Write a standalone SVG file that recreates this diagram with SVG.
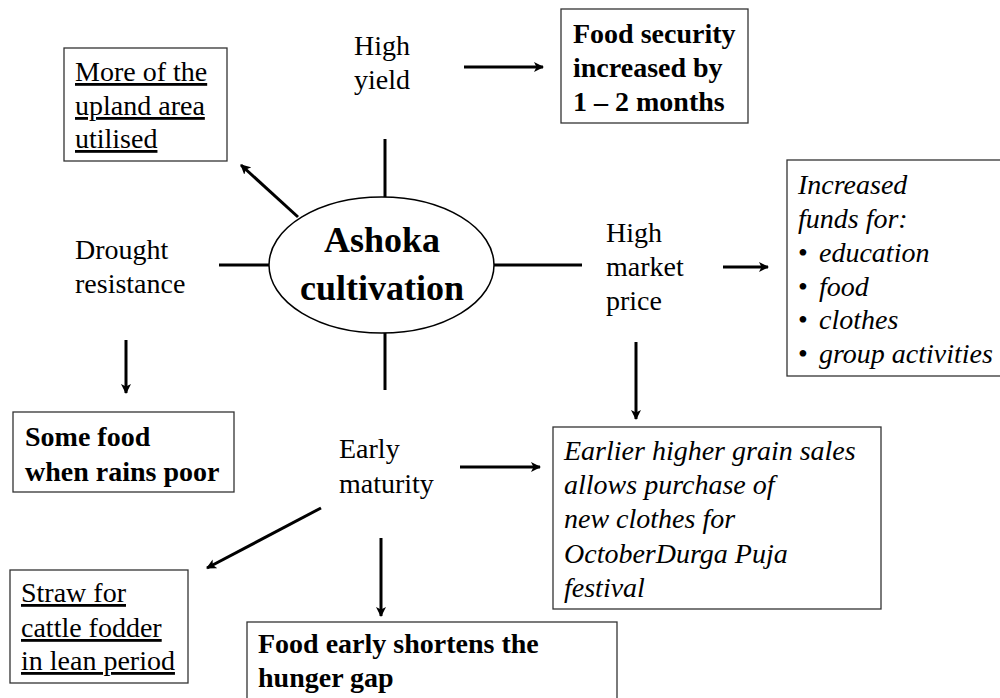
<svg xmlns="http://www.w3.org/2000/svg" width="1000" height="698" viewBox="0 0 1000 698" font-family="Liberation Serif, Times New Roman, serif" font-size="28">
<defs>
<marker id="ah" viewBox="0 0 10 10" refX="9" refY="5" markerWidth="10" markerHeight="10" markerUnits="userSpaceOnUse" orient="auto">
<path d="M0,0 L10,5 L0,10 L2.5,5 z" fill="#000"/>
</marker>
</defs>
<style>
.box{fill:#fff;stroke:#333;stroke-width:1.3}
.b{font-weight:bold}
.i{font-style:italic}
.u{text-decoration:underline}
.big{font-size:36px}
.ln{stroke:#000;stroke-width:3;fill:none}
.ar{stroke:#000;stroke-width:3;fill:none;marker-end:url(#ah)}
</style>
<rect width="1000" height="698" fill="#fff"/>
<g id="connectors">
<line class="ln" x1="385" y1="139" x2="385" y2="197"/>
<line class="ln" x1="219" y1="265" x2="269" y2="265"/>
<line class="ln" x1="494" y1="265" x2="582" y2="265"/>
<line class="ln" x1="385" y1="333" x2="385" y2="390"/>
<line class="ar" x1="298" y1="217" x2="241" y2="165"/>
<line class="ar" x1="464" y1="67" x2="543" y2="67"/>
<line class="ar" x1="723" y1="267" x2="768" y2="267"/>
<line class="ar" x1="636" y1="342" x2="636" y2="419"/>
<line class="ar" x1="126" y1="340" x2="126" y2="393"/>
<line class="ar" x1="460" y1="467" x2="540" y2="467"/>
<line class="ar" x1="321" y1="508" x2="207" y2="568"/>
<line class="ar" x1="381" y1="538" x2="381" y2="616"/>
</g>
<g id="center">
<ellipse cx="381.5" cy="265" rx="112.5" ry="68" fill="#fff" stroke="#000" stroke-width="1.5"/>
<text class="b big" x="382" y="252" text-anchor="middle">Ashoka</text>
<text class="b big" x="382" y="300" text-anchor="middle">cultivation</text>
</g>
<g id="high-yield">
<text x="354" y="55">High</text>
<text x="354" y="89">yield</text>
</g>
<g id="food-security">
<rect class="box" x="561" y="9" width="187" height="114"/>
<text class="b" x="573" y="43">Food security</text>
<text class="b" x="573" y="77">increased by</text>
<text class="b" x="573" y="111">1 – 2 months</text>
</g>
<g id="upland">
<rect class="box" x="64" y="48" width="163" height="113"/>
<text class="u" x="75" y="81">More of the</text>
<text class="u" x="75" y="115">upland area</text>
<text class="u" x="75" y="148">utilised</text>
</g>
<g id="drought">
<text x="75" y="259">Drought</text>
<text x="75" y="293">resistance</text>
</g>
<g id="market-price">
<text x="606" y="242">High</text>
<text x="606" y="276">market</text>
<text x="606" y="310">price</text>
</g>
<g id="funds">
<rect class="box" x="787" y="160" width="220" height="216"/>
<text class="i" x="798" y="194">Increased</text>
<text class="i" x="798" y="228">funds for:</text>
<text x="798" y="262">•</text>
<text class="i" x="819" y="262">education</text>
<text x="798" y="296">•</text>
<text class="i" x="819" y="296">food</text>
<text x="798" y="329">•</text>
<text class="i" x="819" y="329">clothes</text>
<text x="798" y="363">•</text>
<text class="i" x="819" y="363">group activities</text>
</g>
<g id="some-food">
<rect class="box" x="13" y="412" width="221" height="80"/>
<text class="b" x="25" y="446">Some food</text>
<text class="b" x="25" y="481">when rains poor</text>
</g>
<g id="early-maturity">
<text x="339" y="458">Early</text>
<text x="339" y="493">maturity</text>
</g>
<g id="grain-sales">
<rect class="box" x="553" y="427" width="328" height="182"/>
<text class="i" x="564" y="460">Earlier higher grain sales</text>
<text class="i" x="564" y="494">allows purchase of</text>
<text class="i" x="564" y="528">new clothes for</text>
<text class="i" x="564" y="563">OctoberDurga Puja</text>
<text class="i" x="564" y="597">festival</text>
</g>
<g id="straw">
<rect class="box" x="10" y="570" width="178" height="113"/>
<text class="u" x="21" y="602">Straw for</text>
<text class="u" x="21" y="637">cattle fodder</text>
<text class="u" x="21" y="670">in lean period</text>
</g>
<g id="hunger-gap">
<rect class="box" x="247" y="622" width="370" height="90"/>
<text class="b" x="258" y="653">Food early shortens the</text>
<text class="b" x="258" y="687">hunger gap</text>
</g>
</svg>
